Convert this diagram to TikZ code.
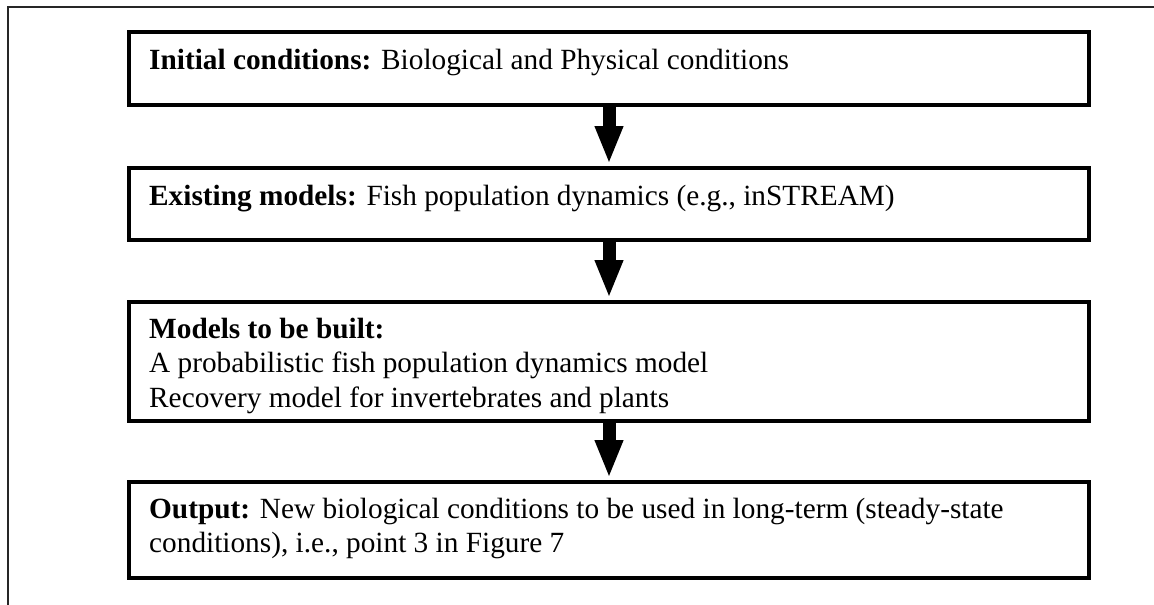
\documentclass[tikz,border=0pt]{standalone}
\usepackage{fontspec}
\setmainfont{Liberation Serif}
\usetikzlibrary{arrows.meta,calc}

\begin{document}
\begin{tikzpicture}[x=1pt,y=1pt,
    stagebox/.style={draw=black, line width=4pt, rectangle, inner sep=0pt,
                     minimum width=960pt},
    stagetext/.style={anchor=base west, inner sep=0pt, align=left,
                      font=\fontsize{29.3}{34.5}\selectfont},
    flowarrow/.style={line width=13pt,
                      -{Triangle[width=26pt,length=38pt]}, shorten >=2pt}]
  % page area
  \useasboundingbox (0,0) rectangle (1154,-605);
  % outer frame (top and left edges)
  \draw[line width=1.5pt, draw=black!85] (1154,-7) -- (8,-7) -- (8,-605);

  % stage boxes
  \node[stagebox, minimum height=73pt] (b1) at (609,-68.5) {};
  \node[stagebox, minimum height=72pt] (b2) at (609,-204) {};
  \node[stagebox, minimum height=119pt] (b3) at (609,-361.5) {};
  \node[stagebox, minimum height=96pt] (b4) at (609,-530) {};

  % box texts (base anchor sits on the last line of each text)
  \node[stagetext] (t1) at ($(b1.north west)+(22,-39)$)
    {\textbf{Initial conditions:} Biological and Physical conditions};
  \node[stagetext] (t2) at ($(b2.north west)+(22,-39)$)
    {\textbf{Existing models:} Fish population dynamics (e.g., inSTREAM)};
  \node[stagetext] (t3) at ($(b3.north west)+(22,-107)$)
    {\textbf{Models to be built:}\\
     A probabilistic fish population dynamics model\\
     Recovery model for invertebrates and plants};
  \node[stagetext] (t4) at ($(b4.north west)+(22,-72.5)$)
    {\textbf{Output:} New biological conditions to be used in long-term (steady-state\\
     conditions), i.e., point 3 in Figure 7};

  % flow arrows
  \draw[flowarrow] (b1.south) -- (b2.north);
  \draw[flowarrow] (b2.south) -- (b3.north);
  \draw[flowarrow] (b3.south) -- (b4.north);
\end{tikzpicture}
\end{document}
